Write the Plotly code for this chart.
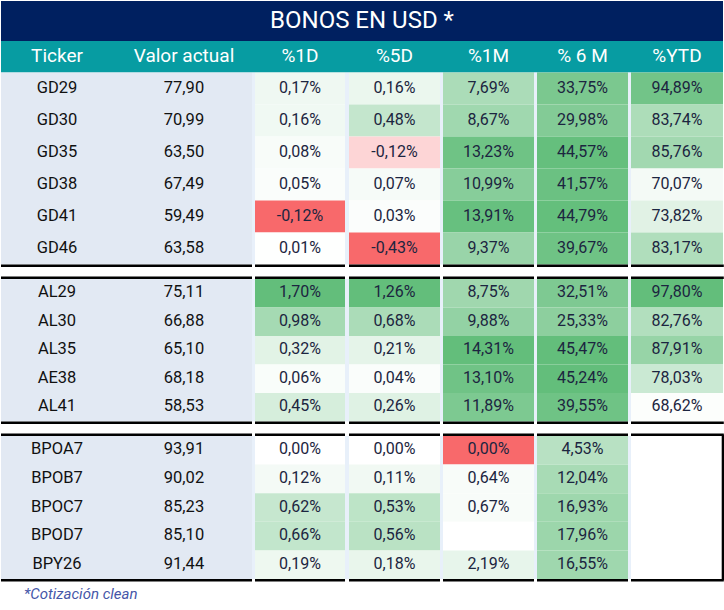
import plotly.graph_objects as go

# ---------------- data ----------------
title_text = "BONOS EN USD *"
footnote_text = "*Cotización clean"
header_labels = ["Ticker", "Valor actual", "%1D", "%5D", "%1M", "% 6 M", "%YTD"]

tickers_gd = ["GD29", "GD30", "GD35", "GD38", "GD41", "GD46"]
valor_gd = [77.90, 70.99, 63.50, 67.49, 59.49, 63.58]
d1_gd = [0.17, 0.16, 0.08, 0.05, -0.12, 0.01]
d5_gd = [0.16, 0.48, -0.12, 0.07, 0.03, -0.43]
m1_gd = [7.69, 8.67, 13.23, 10.99, 13.91, 9.37]
m6_gd = [33.75, 29.98, 44.57, 41.57, 44.79, 39.67]
ytd_gd = [94.89, 83.74, 85.76, 70.07, 73.82, 83.17]

tickers_al = ["AL29", "AL30", "AL35", "AE38", "AL41"]
valor_al = [75.11, 66.88, 65.10, 68.18, 58.53]
d1_al = [1.70, 0.98, 0.32, 0.06, 0.45]
d5_al = [1.26, 0.68, 0.21, 0.04, 0.26]
m1_al = [8.75, 9.88, 14.31, 13.10, 11.89]
m6_al = [32.51, 25.33, 45.47, 45.24, 39.55]
ytd_al = [97.80, 82.76, 87.91, 78.03, 68.62]

tickers_bp = ["BPOA7", "BPOB7", "BPOC7", "BPOD7", "BPY26"]
valor_bp = [93.91, 90.02, 85.23, 85.10, 91.44]
d1_bp = [0.00, 0.12, 0.62, 0.66, 0.19]
d5_bp = [0.00, 0.11, 0.53, 0.56, 0.18]
m1_bp = [0.00, 0.64, 0.67, None, 2.19]
m6_bp = [4.53, 12.04, 16.93, 17.96, 16.55]
ytd_bp = [None, None, None, None, None]

groups = [
    (tickers_gd, valor_gd, [d1_gd, d5_gd, m1_gd, m6_gd, ytd_gd]),
    (tickers_al, valor_al, [d1_al, d5_al, m1_al, m6_al, ytd_al]),
    (tickers_bp, valor_bp, [d1_bp, d5_bp, m1_bp, m6_bp, ytd_bp]),
]

# ---------------- styles / layout ----------------
W, H = 724, 610
NAVY = "#002060"
TEAL = "#079CA2"
LIGHTBLUE = "#E2E9F3"
SEP = "#E8F0FA"
GREEN = (99, 190, 123)
RED = (248, 105, 107)
WHITE_AT = [0, 0, 0, -30, 68]
FONT = "Roboto"

LEFT, RIGHT = 1, 723
TITLE_Y = (1, 41)
HEAD_Y = (41, 72.5)
GROUP_SPANS = [(72.5, 264.5), (279, 421.5), (436, 579)]
BLACK_LINES = [265.7, 277.7, 422.7, 434.7, 580.2]
BLOCK_X = (LEFT, 252)
COL_X = [(255, 345), (349, 440), (443, 534), (537, 628), (631, RIGHT)]
TICKER_X, VALOR_X = 57, 184


def fmt_num(v):
    return f"{v:.2f}".replace(".", ",")


def mix(c, t):
    t = max(0.0, min(1.0, t))
    r, g, b = (round(255 + t * (ci - 255)) for ci in c)
    return f"rgb({r},{g},{b})"


ncols = len(COL_X)
col_vals = [[v for g in groups for v in g[2][j] if v is not None] for j in range(ncols)]
col_min = [min(v) if v else 0 for v in col_vals]
col_max = [max(v) if v else 1 for v in col_vals]


def cell_color(j, v):
    if v is None:
        return "white"
    lo = WHITE_AT[j]
    if v <= lo:
        if col_min[j] < lo:
            return mix(RED, (v - lo) / (col_min[j] - lo))
        return mix(RED, 1.0)
    return mix(GREEN, (v - lo) / (col_max[j] - lo))


shapes = []


def rect(x0, x1, y0, y1, color):
    shapes.append(dict(type="rect", xref="x", yref="y", x0=x0, x1=x1, y0=y0, y1=y1,
                       fillcolor=color, line=dict(width=0), layer="below"))


rect(LEFT, RIGHT, TITLE_Y[0], TITLE_Y[1], NAVY)
rect(LEFT, RIGHT, HEAD_Y[0], HEAD_Y[1], TEAL)

tx, ty, tt = [], [], []        # ticker texts
vx, vy, vt = [], [], []        # valor texts
cx, cy, ct = [], [], []        # percentage texts

for (tickers, valor, cols), (gy0, gy1) in zip(groups, GROUP_SPANS):
    n = len(tickers)
    rh = (gy1 - gy0) / n
    rect(BLOCK_X[0], BLOCK_X[1], gy0, gy1, LIGHTBLUE)
    seps = [(BLOCK_X[1], COL_X[0][0])] + [(COL_X[k][1], COL_X[k + 1][0]) for k in range(ncols - 1)]
    for s0, s1 in seps:
        rect(s0, s1, gy0, gy1, SEP)
    for i in range(n):
        y0 = gy0 + i * rh
        yc = y0 + rh / 2
        tx.append(TICKER_X); ty.append(yc); tt.append(tickers[i])
        vx.append(VALOR_X); vy.append(yc); vt.append(fmt_num(valor[i]))
        for j in range(ncols):
            v = cols[j][i]
            rect(COL_X[j][0], COL_X[j][1], y0, y0 + rh, cell_color(j, v))
            if v is not None:
                cx.append((COL_X[j][0] + COL_X[j][1]) / 2)
                cy.append(yc)
                ct.append(fmt_num(v) + "%")

segs = [BLOCK_X] + COL_X
for ly in BLACK_LINES:
    for s0, s1 in segs:
        shapes.append(dict(type="line", xref="x", yref="y", x0=s0, x1=s1 + (0.8 if s1 == RIGHT else 0),
                           y0=ly, y1=ly, line=dict(color="black", width=2.6), layer="above"))
shapes.append(dict(type="line", xref="x", yref="y", x0=RIGHT, x1=RIGHT,
                   y0=BLACK_LINES[3], y1=BLACK_LINES[4],
                   line=dict(color="black", width=2.6), layer="above"))

fig = go.Figure()
hx = [TICKER_X, VALOR_X] + [(a + b) / 2 for a, b in COL_X]
fig.add_trace(go.Scatter(x=[(LEFT + RIGHT) / 2], y=[sum(TITLE_Y) / 2 + 0.5], text=[title_text], mode="text",
                         textfont=dict(family=FONT, size=24, color="white"), hoverinfo="skip"))
fig.add_trace(go.Scatter(x=hx, y=[sum(HEAD_Y) / 2] * len(hx), text=header_labels, mode="text",
                         textfont=dict(family=FONT, size=19, color="white"), hoverinfo="skip"))
fig.add_trace(go.Scatter(x=tx, y=ty, text=tt, mode="text",
                         textfont=dict(family=FONT, size=16.5, color="#111111"), hoverinfo="skip"))
fig.add_trace(go.Scatter(x=vx, y=vy, text=vt, mode="text",
                         textfont=dict(family=FONT, size=16.5, color="#111111"), hoverinfo="skip"))
fig.add_trace(go.Scatter(x=cx, y=cy, text=ct, mode="text",
                         textfont=dict(family=FONT, size=16, color="#1C2540"), hoverinfo="skip"))
fig.add_trace(go.Scatter(x=[24], y=[595], text=[footnote_text], mode="text", textposition="middle right",
                         textfont=dict(family=FONT, size=15, color="#4556A8", style="italic"),
                         hoverinfo="skip"))

fig.update_layout(
    width=W, height=H, margin=dict(l=0, r=0, t=0, b=0),
    xaxis=dict(range=[0, W], visible=False, fixedrange=True),
    yaxis=dict(range=[H, 0], visible=False, fixedrange=True),
    plot_bgcolor="white", paper_bgcolor="white",
    showlegend=False, shapes=shapes,
)
fig.write_html("out.html", config={"displayModeBar": False},
               post_script="document.body.style.margin='0';document.body.style.overflow='hidden';")
